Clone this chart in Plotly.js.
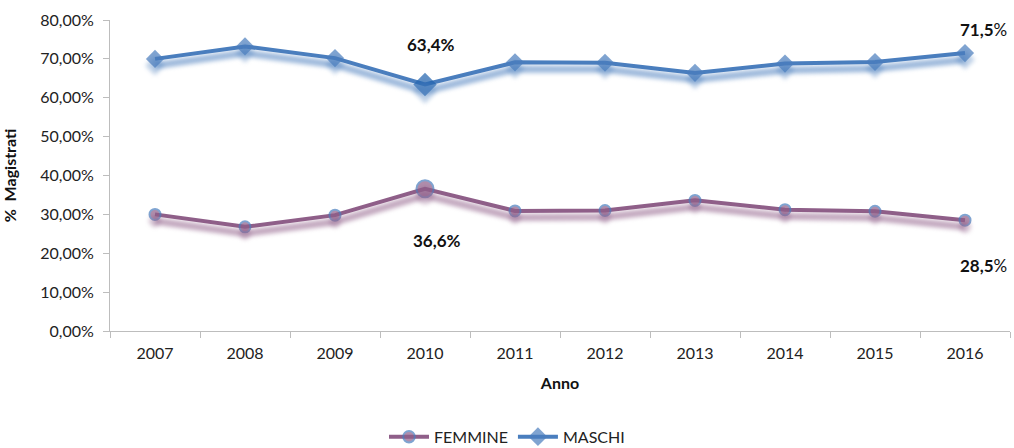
<!DOCTYPE html>
<html><head><meta charset="utf-8">
<script src="https://cdn.plot.ly/plotly-3.0.1.min.js"></script>
<style>
html,body{margin:0;padding:0;background:#fff;}
#chart{width:1014px;height:448px;}
</style>
</head><body><div id="chart"></div>
<script>
const years = ['2007','2008','2009','2010','2011','2012','2013','2014','2015','2016'];
const femmine = [30.0, 26.8, 29.8, 36.6, 30.9, 31.0, 33.6, 31.2, 30.8, 28.5];
const maschi  = [70.0, 73.2, 70.2, 63.4, 69.1, 69.0, 66.4, 68.8, 69.2, 71.5];
const yTicks = [0,10,20,30,40,50,60,70,80];

const fCol = '#8F5F89', mCol = '#4A7EBE';
const fSizes = femmine.map((v,i)=> i===3 ? 17 : 11);
const mSizes = maschi.map((v,i)=> i===3 ? 18 : 14);
const mFill = maschi.map((v,i)=> i===3 ? '#1F63AE' : mCol);

const shadowF = {x: years, y: femmine, mode:'lines+markers', yaxis:'y2', showlegend:false, hoverinfo:'skip', name:'shadowF',
  line:{color:'rgba(143,95,137,0.55)', width:7}, marker:{symbol:'circle', size:fSizes, color:'rgba(143,95,137,0.5)'}};
const shadowM = {x: years, y: maschi, mode:'lines+markers', yaxis:'y2', showlegend:false, hoverinfo:'skip', name:'shadowM',
  line:{color:'rgba(74,126,190,0.55)', width:7}, marker:{symbol:'diamond', size:mSizes, color:'rgba(74,126,190,0.5)'}};

const tF = {x: years, y: femmine, name:'FEMMINE', mode:'lines+markers',
  line:{color:fCol, width:4}, marker:{symbol:'circle', size:fSizes, color:fCol, line:{color:'#4A7EBE', width:2}}};
const tM = {x: years, y: maschi, name:'MASCHI', mode:'lines+markers',
  line:{color:mCol, width:4}, marker:{symbol:'diamond', size:mSizes, color:mFill, line:{width:0}}};

const font = "Lato, 'Open Sans', sans-serif";
const fmt = v => v.toFixed(1).replace('.',',');
const layout = {
  width:1014, height:448,
  margin:{l:110, r:4, t:20, b:117},
  paper_bgcolor:'#fff', plot_bgcolor:'#fff',
  font:{family:font, size:16, color:'#222'},
  showlegend:true,
  legend:{orientation:'h', x:0.5, xanchor:'center', xref:'container', yref:'container', y:0.025, yanchor:'middle',
    font:{family:font, size:16, color:'#222'}, traceorder:'normal', itemwidth:40},
  xaxis:{type:'category', range:[-0.5,9.5], showgrid:false, zeroline:false, showline:true, linecolor:'#BDBDBD', linewidth:1,
    ticks:'outside', ticklen:6, tickcolor:'#BDBDBD', tickson:'boundaries', ticklabelstandoff:8, automargin:false,
    tickfont:{family:font, size:16, color:'#222'},
    title:{text:'<b>Anno</b>', font:{family:font, size:16, color:'#111'}, standoff:16}},
  yaxis:{range:[0,80], tickvals:yTicks, ticktext:yTicks.map(v=>v.toFixed(2).replace('.',',')+'%'), showgrid:false, zeroline:false,
    showline:true, linecolor:'#BDBDBD', linewidth:1, ticks:'outside', ticklen:6, tickcolor:'#BDBDBD', ticklabelstandoff:6, automargin:false,
    tickfont:{family:font, size:16, color:'#222'},
    title:{text:'<b>%  Magistrati</b>', font:{family:font, size:16, color:'#111'}, standoff:24}},
  yaxis2:{range:[1.7,81.7], overlaying:'y', visible:false, showgrid:false, zeroline:false},
  annotations:[
    {x:3, y:maschi[3], xref:'x', yref:'y', text:'<b>'+fmt(maschi[3])+'%</b>', showarrow:false, yshift:40, xshift:6, font:{family:font, size:17, color:'#111'}},
    {x:3, y:femmine[3], xref:'x', yref:'y', text:'<b>'+fmt(femmine[3])+'%</b>', showarrow:false, yshift:-52, xshift:12, font:{family:font, size:17, color:'#111'}},
    {x:9, y:maschi[9], xref:'x', yref:'y', text:'<b>'+fmt(maschi[9])+'</b>%', showarrow:false, yshift:24, xshift:18, font:{family:font, size:17, color:'#111'}},
    {x:9, y:femmine[9], xref:'x', yref:'y', text:'<b>'+fmt(femmine[9])+'</b>%', showarrow:false, yshift:-45, xshift:18, font:{family:font, size:17, color:'#111'}}
  ]
};
Plotly.newPlot('chart', [shadowF, shadowM, tF, tM], layout, {displayModeBar:false, staticPlot:true}).then(gd => {
  document.querySelectorAll('.scatterlayer .trace').forEach(el => {
    const d = el.__data__;
    const tr = d && d[0] && d[0].trace;
    if (tr && tr.yaxis === 'y2') el.style.filter = 'blur(2px)';
  });
});
</script></body></html>
